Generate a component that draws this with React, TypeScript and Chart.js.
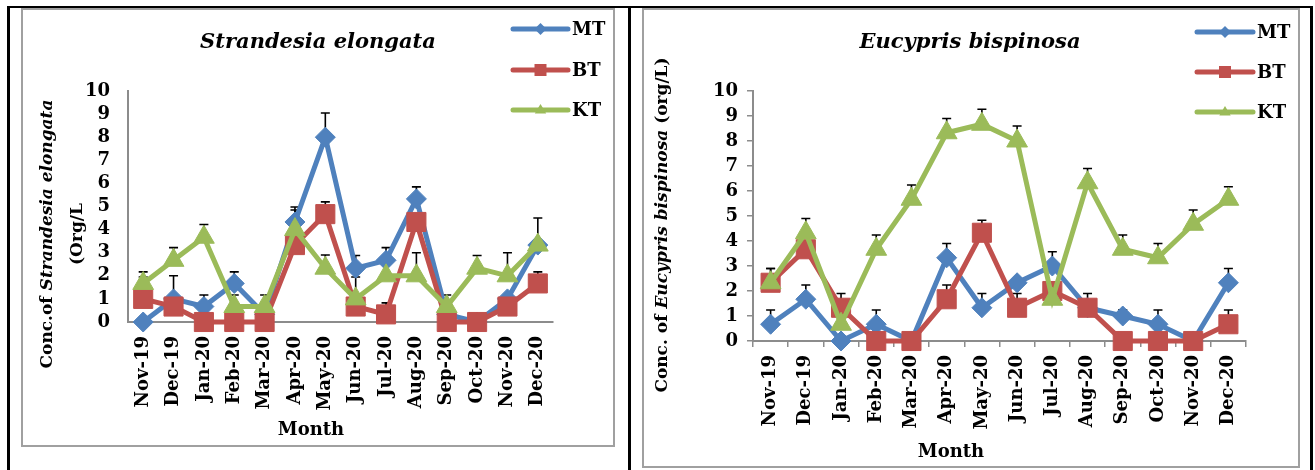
import React, { useEffect, useRef } from "react";
import { Chart, registerables } from "chart.js";

Chart.register(...registerables);

// ---------- data ----------
const MONTHS = ["Nov-19", "Dec-19", "Jan-20", "Feb-20", "Mar-20", "Apr-20", "May-20", "Jun-20", "Jul-20", "Aug-20", "Sep-20", "Oct-20", "Nov-20", "Dec-20"];
const SERIES = ["MT", "BT", "KT"];
const Y_MIN = 0;
const Y_MAX = 10;
const Y_STEP = 1;

// Strandesia elongata
const SE_MT = [0, 1, 0.67, 1.67, 0.33, 4.33, 8, 2.33, 2.67, 5.33, 0.33, 0, 1, 3.33];
const SE_BT = [1, 0.67, 0, 0, 0, 3.33, 4.67, 0.67, 0.33, 4.33, 0, 0, 0.67, 1.67];
const SE_KT = [1.67, 2.67, 3.67, 0.67, 0.67, 4, 2.33, 1, 2, 2, 0.67, 2.33, 2, 3.33];
const SE_MT_ERR = [0, 1, 0.5, 0.5, 0, 0.65, 1.05, 0.55, 0.55, 0.52, 0, 0, 0, 1.17];
const SE_BT_ERR = [0.95, 0, 0, 0, 0, 0, 0.53, 0, 0.5, 0, 0, 0, 0, 0.5];
const SE_KT_ERR = [0.5, 0.55, 0.55, 0.5, 0.5, 0.85, 0.57, 0.95, 0, 1, 0.5, 0.55, 1, 0];

// Eucypris bispinosa
const EB_MT = [0.67, 1.67, 0, 0.67, 0, 3.33, 1.33, 2.33, 3, 1.33, 1, 0.67, 0, 2.33];
const EB_BT = [2.33, 3.67, 1.33, 0, 0, 1.67, 4.33, 1.33, 2, 1.33, 0, 0, 0, 0.67];
const EB_KT = [2.33, 4.33, 0.67, 3.67, 5.67, 8.33, 8.67, 8, 1.67, 6.33, 3.67, 3.33, 4.67, 5.67];
const EB_MT_ERR = [0.57, 0.57, 0, 0.57, 0, 0.57, 0.57, 0, 0.57, 0, 0.25, 0.57, 0, 0.57];
const EB_BT_ERR = [0.57, 0, 0.57, 0, 0, 0.57, 0.5, 0.57, 0, 0.57, 0, 0, 0, 0.57];
const EB_KT_ERR = [0.57, 0.57, 0, 0.57, 0.57, 0.57, 0.6, 0.6, 0, 0.57, 0.57, 0.57, 0.57, 0.5];

// ---------- styles ----------
const FONT = '"DejaVu Serif", serif';
const COLORS = ["#4F81BD", "#C0504D", "#9BBB59"];
const STYLES = ["rectRot", "rect", "triangle"];
const RADII = [10, 13.5, 12];
const AXIS_GRAY = "#8c8c8c";

type Seg = { text: string; italic?: boolean };

interface Decor {
  title: string;
  titleX: number;
  titleY: number;
  yTitle: { segs: Seg[]; x: number; y: number }[];
  monthX: number;
  monthY: number;
  legX0: number;
  legX1: number;
  legYs: number[];
  errors: number[][];
}

function fontStr(italic: boolean | undefined, size: number) {
  return `${italic ? "italic " : ""}bold ${size}px ${FONT}`;
}

function drawMarker(ctx: CanvasRenderingContext2D, style: string, x: number, y: number, r: number) {
  ctx.beginPath();
  if (style === "rectRot") {
    ctx.moveTo(x, y - r);
    ctx.lineTo(x + r, y);
    ctx.lineTo(x, y + r);
    ctx.lineTo(x - r, y);
  } else if (style === "rect") {
    ctx.rect(x - r, y - r, 2 * r, 2 * r);
  } else {
    ctx.moveTo(x, y - r);
    ctx.lineTo(x + r * 0.95, y + r * 0.6);
    ctx.lineTo(x - r * 0.95, y + r * 0.6);
  }
  ctx.closePath();
  ctx.fill();
}

function makeDecor(d: Decor) {
  return {
    id: "decor",
    beforeDatasetsDraw(chart: any) {
      const ctx: CanvasRenderingContext2D = chart.ctx;
      const ys = chart.scales.y;
      ctx.save();
      ctx.strokeStyle = "#000";
      ctx.lineWidth = 1.6;
      chart.data.datasets.forEach((ds: any, i: number) => {
        const meta = chart.getDatasetMeta(i);
        const errs = d.errors[i];
        ds.data.forEach((v: number, j: number) => {
          const e = errs[j];
          if (!e) return;
          const x = meta.data[j].x;
          const y0 = ys.getPixelForValue(v);
          const y1 = ys.getPixelForValue(v + e);
          ctx.beginPath();
          ctx.moveTo(x, y0);
          ctx.lineTo(x, y1);
          ctx.moveTo(x - 4.5, y1);
          ctx.lineTo(x + 4.5, y1);
          ctx.stroke();
        });
      });
      ctx.restore();
    },
    afterDraw(chart: any) {
      const ctx: CanvasRenderingContext2D = chart.ctx;
      ctx.save();
      ctx.fillStyle = "#000";
      // title
      ctx.font = fontStr(true, 21);
      ctx.textAlign = "center";
      ctx.textBaseline = "middle";
      ctx.fillText(d.title, d.titleX, d.titleY);
      // month
      ctx.font = fontStr(false, 18);
      ctx.fillText("Month", d.monthX, d.monthY);
      // y titles
      d.yTitle.forEach((line) => {
        ctx.save();
        ctx.translate(line.x, line.y);
        ctx.rotate(-Math.PI / 2);
        let total = 0;
        const widths = line.segs.map((s) => {
          ctx.font = fontStr(s.italic, 17);
          const w = ctx.measureText(s.text).width;
          total += w;
          return w;
        });
        let x = -total / 2;
        ctx.textAlign = "left";
        ctx.textBaseline = "middle";
        line.segs.forEach((s, k) => {
          ctx.font = fontStr(s.italic, 17);
          ctx.fillText(s.text, x, 0);
          x += widths[k];
        });
        ctx.restore();
      });
      // legend
      SERIES.forEach((name, i) => {
        const y = d.legYs[i];
        ctx.strokeStyle = COLORS[i];
        ctx.fillStyle = COLORS[i];
        ctx.lineWidth = 5;
        ctx.lineCap = "round";
        ctx.beginPath();
        ctx.moveTo(d.legX0, y);
        ctx.lineTo(d.legX1, y);
        ctx.stroke();
        drawMarker(ctx, STYLES[i], (d.legX0 + d.legX1) / 2, y, 6);
        ctx.fillStyle = "#000";
        ctx.font = fontStr(false, 18);
        ctx.textAlign = "left";
        ctx.textBaseline = "middle";
        ctx.fillText(name, d.legX1 + 4, y + 1);
      });
      ctx.restore();
    },
  };
}

function buildConfig(
  data: number[][],
  decor: Decor,
  area: { yWidth: number; xHeight: number; top: number; right: number },
  withTicks: boolean,
  yPad: number,
  xPad: number
): any {
  const datasets = data.map((vals, i) => ({
    label: SERIES[i],
    data: vals,
    borderColor: COLORS[i],
    backgroundColor: COLORS[i],
    borderWidth: 5,
    pointStyle: STYLES[i],
    pointRadius: RADII[i],
    pointHoverRadius: RADII[i],
    pointBackgroundColor: COLORS[i],
    pointBorderColor: COLORS[i],
    pointBorderWidth: 1,
    tension: 0,
    clip: false,
    order: 2 - i,
  }));
  const tickFont = { family: FONT, size: 18, weight: "bold" };
  return {
    type: "line",
    data: { labels: MONTHS, datasets },
    options: {
      responsive: false,
      maintainAspectRatio: false,
      animation: false,
      devicePixelRatio: 1,
      layout: { padding: { left: 0, top: area.top, right: area.right, bottom: 0 } },
      plugins: { legend: { display: false }, title: { display: false }, tooltip: { enabled: false } },
      scales: {
        x: {
          type: "category",
          offset: true,
          grid: {
            display: true,
            drawOnChartArea: false,
            drawTicks: withTicks,
            tickLength: 6,
            offset: true,
            color: AXIS_GRAY,
            lineWidth: 1.5,
          },
          border: { display: true, color: AXIS_GRAY, width: 2 },
          ticks: { color: "#000", font: tickFont, minRotation: 90, maxRotation: 90, autoSkip: false, padding: xPad },
          afterFit: (s: any) => {
            s.height = area.xHeight;
          },
        },
        y: {
          min: Y_MIN,
          max: Y_MAX,
          grid: {
            display: true,
            drawOnChartArea: false,
            drawTicks: withTicks,
            tickLength: 6,
            color: AXIS_GRAY,
            lineWidth: 1.5,
          },
          border: { display: true, color: AXIS_GRAY, width: 2 },
          ticks: { stepSize: Y_STEP, autoSkip: false, color: "#000", font: tickFont, padding: yPad },
          afterFit: (s: any) => {
            s.width = area.yWidth;
          },
        },
      },
    },
    plugins: [makeDecor(decor)],
  };
}

function ChartCanvas(props: { left: number; top: number; width: number; height: number; make: () => any }) {
  const ref = useRef<HTMLCanvasElement>(null);
  useEffect(() => {
    const chart = new Chart(ref.current as HTMLCanvasElement, props.make());
    return () => chart.destroy();
  }, []);
  return (
    <canvas
      ref={ref}
      width={props.width}
      height={props.height}
      style={{ position: "absolute", left: props.left, top: props.top, width: props.width, height: props.height }}
    />
  );
}

const leftDecor: Decor = {
  title: "Strandesia elongata",
  titleX: 295,
  titleY: 33,
  yTitle: [
    { segs: [{ text: "Conc.of " }, { text: "Strandesia elongata", italic: true }], x: 25, y: 224 },
    { segs: [{ text: "(Org/L" }], x: 55, y: 224 },
  ],
  monthX: 288,
  monthY: 420,
  legX0: 490,
  legX1: 545,
  legYs: [19, 60, 100],
  errors: [SE_MT_ERR, SE_BT_ERR, SE_KT_ERR],
};

const rightDecor: Decor = {
  title: "Eucypris bispinosa",
  titleX: 326,
  titleY: 33,
  yTitle: [
    {
      segs: [{ text: "Conc. of " }, { text: "Eucypris bispinosa", italic: true }, { text: " (org/L)" }],
      x: 19,
      y: 215,
    },
  ],
  monthX: 307,
  monthY: 442,
  legX0: 553,
  legX1: 609,
  legYs: [22, 62, 102],
  errors: [EB_MT_ERR, EB_BT_ERR, EB_KT_ERR],
};

const box = (l: number, t: number, w: number, h: number, extra: any = {}) => ({
  position: "absolute" as const,
  left: l,
  top: t,
  width: w,
  height: h,
  boxSizing: "border-box" as const,
  ...extra,
});

export default function App() {
  return (
    <div>
      {/* table borders */}
      <div style={box(7, 6, 1306, 2, { background: "#000" })} />
      <div style={box(7, 6, 3, 464, { background: "#000" })} />
      <div style={box(628, 6, 3, 464, { background: "#000" })} />
      <div style={box(1310, 6, 3, 464, { background: "#000" })} />
      {/* chart frames */}
      <div style={box(21, 8, 594, 439, { border: "2px solid #a0a0a0" })} />
      <div style={box(642, 8, 658, 460, { border: "2px solid #a0a0a0" })} />
      <ChartCanvas
        left={23}
        top={10}
        width={589}
        height={434}
        make={() =>
          buildConfig([SE_MT, SE_BT, SE_KT], leftDecor, { yWidth: 105, xHeight: 122, top: 81, right: 59 }, false, 18, 14)
        }
      />
      <ChartCanvas
        left={644}
        top={10}
        width={653}
        height={455}
        make={() =>
          buildConfig([EB_MT, EB_BT, EB_KT], rightDecor, { yWidth: 109, xHeight: 124, top: 81, right: 51 }, true, 9, 8)
        }
      />
    </div>
  );
}
